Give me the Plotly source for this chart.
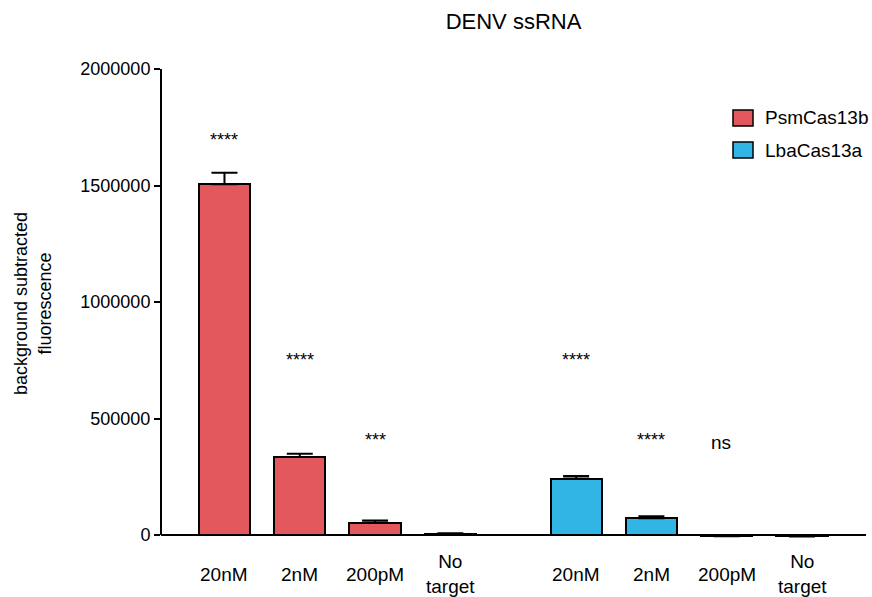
import plotly.graph_objects as go

# Data
concentrations = ["20nM", "2nM", "200pM", "No<br>target"]
psm_x = [0, 1, 2, 3]
lba_x = [4.67, 5.67, 6.67, 7.67]
psm_values = [1505000, 335000, 53000, 6000]
psm_errors = [50000, 14000, 9000, 2000]
lba_values = [242000, 72000, -3000, -4000]
lba_errors = [11000, 8000, 2000, 2000]

sig_x = [0, 1, 2, 4.67, 5.67, 6.6]
sig_y = [1695000, 750000, 406000, 750000, 406000, 398000]
sig_text = ["****", "****", "***", "****", "****", "ns"]

y_ticks = [0, 500000, 1000000, 1500000, 2000000]

RED = "#E2585C"
BLUE = "#30B5E4"
FONT = "Liberation Sans, Arial, Helvetica, sans-serif"


def split_err(vals, errs):
    up = [e if v >= 0 else 0 for v, e in zip(vals, errs)]
    down = [e if v < 0 else 0 for v, e in zip(vals, errs)]
    return up, down


fig = go.Figure()
for name, xs, vals, errs, color in [
    ("PsmCas13b", psm_x, psm_values, psm_errors, RED),
    ("LbaCas13a", lba_x, lba_values, lba_errors, BLUE),
]:
    up, down = split_err(vals, errs)
    fig.add_trace(go.Bar(
        x=xs, y=vals, name=name, width=0.68,
        marker=dict(color=color, line=dict(color="black", width=2)),
        error_y=dict(type="data", symmetric=False, array=up, arrayminus=down,
                     color="black", thickness=2, width=13),
        showlegend=False,
    ))

annotations = []
# category labels under the bars
for xs in (psm_x, lba_x):
    for x, lab in zip(xs, concentrations):
        annotations.append(dict(x=x, y=0, xref="x", yref="paper", text=lab,
                                showarrow=False, yanchor="middle", yshift=-36,
                                font=dict(size=19, color="black", family=FONT)))
# significance marks
for x, y, t in zip(sig_x, sig_y, sig_text):
    annotations.append(dict(x=x, y=y, xref="x", yref="y", text=t, showarrow=False,
                            yanchor="middle",
                            font=dict(size=18 if t != "ns" else 19, color="black", family=FONT)))

# legend
shapes = []
for i, (name, color) in enumerate([("PsmCas13b", RED), ("LbaCas13a", BLUE)]):
    yc = 118 + 32 * i
    shapes.append(dict(type="rect", xref="paper", yref="paper",
                       x0=(733 - 161) / 705, x1=(753 - 161) / 705,
                       y0=(538 - (yc - 8)) / 469, y1=(538 - (yc + 8)) / 469,
                       fillcolor=color, line=dict(color="black", width=1.5)))
    annotations.append(dict(x=(763 - 161) / 705, y=(538 - yc) / 469, xref="paper", yref="paper",
                            text=name, showarrow=False, xanchor="left", yanchor="middle",
                            font=dict(size=19, color="black", family=FONT)))

# y axis line from 0 to top
shapes.append(dict(type="line", xref="paper", yref="y", x0=0, x1=0, y0=0, y1=2000000,
                   line=dict(color="black", width=2)))

fig.update_layout(
    width=872, height=597,
    margin=dict(l=161, r=6, t=69, b=59),
    plot_bgcolor="white", paper_bgcolor="white",
    font=dict(family=FONT, color="black"),
    title=dict(text="DENV ssRNA", x=0.5, xref="paper", y=1 - 21 / 597, yref="container",
               xanchor="center", yanchor="middle", font=dict(size=22, color="black")),
    xaxis=dict(range=[-0.843, 8.52], showticklabels=False, showgrid=False,
               showline=False, zeroline=False, ticks=""),
    yaxis=dict(range=[-12876, 2000000], tickvals=y_ticks, ticktext=[str(v) for v in y_ticks],
               ticks="outside", ticklen=6, tickwidth=2, tickcolor="black",
               showgrid=False, showline=False, zeroline=True, zerolinecolor="black",
               zerolinewidth=2, tickfont=dict(size=18, color="black"),
               title=dict(text="background subtracted<br>fluorescence",
                          font=dict(size=18, color="black"), standoff=24)),
    bargap=0, shapes=shapes, annotations=annotations,
)

fig.write_html("out.html")
